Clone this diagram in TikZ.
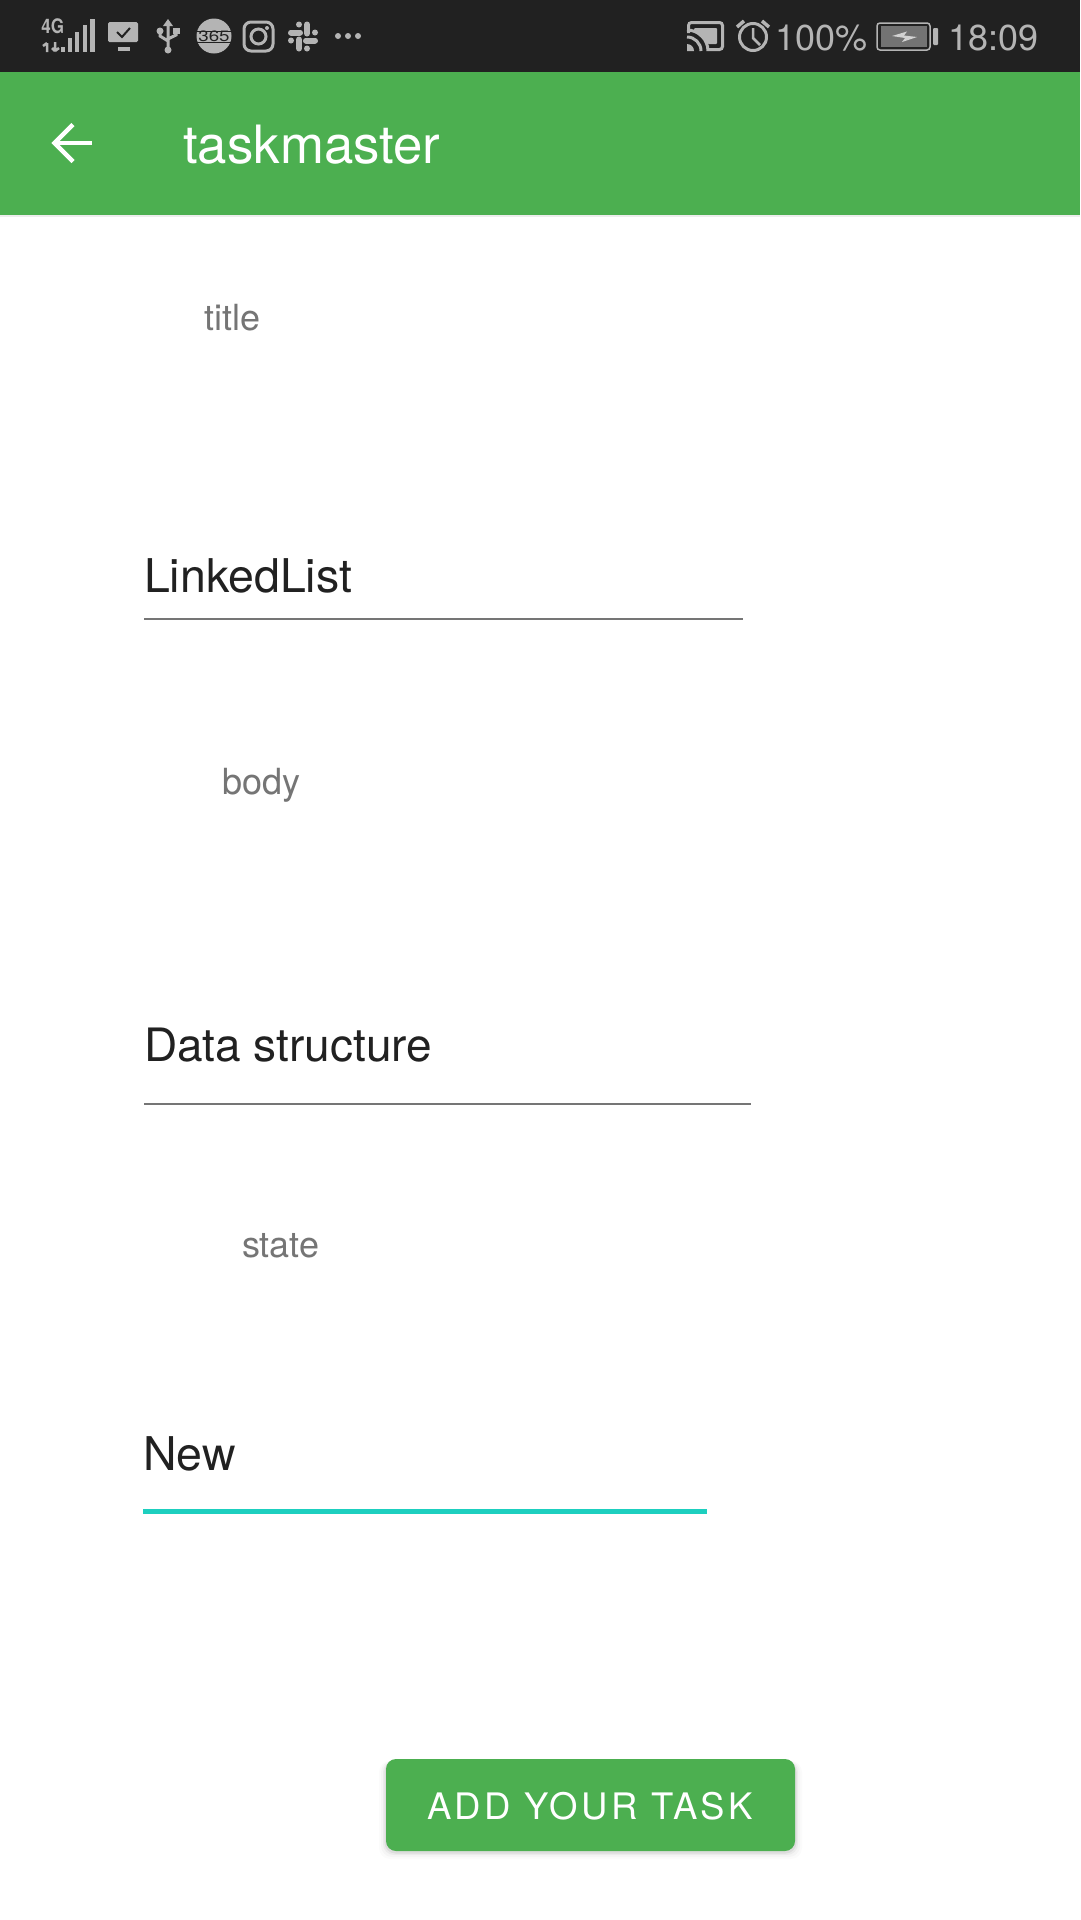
\documentclass[tikz,border=0pt]{standalone}
\usepackage{fontspec}
\setmainfont{TeX Gyre Heros}
\newcommand{\fsize}[1]{\fontsize{#1}{#1}\selectfont}
\definecolor{barblack}{HTML}{212121}
\definecolor{appgreen}{HTML}{4CAF50}
\definecolor{inkdark}{HTML}{212121}
\definecolor{inkgray}{HTML}{757575}
\definecolor{icongray}{HTML}{B4B4B4}
\definecolor{accentteal}{HTML}{1DCFBF}

\begin{document}
\begin{tikzpicture}[x=1pt,y=-1pt,
  label node/.style={anchor=base west,inner sep=0pt,outer sep=0pt,text=inkgray,font=\fsize{36}},
  input node/.style={anchor=base west,inner sep=0pt,outer sep=0pt,text=inkdark,font=\fsize{46.5}},
  status node/.style={anchor=base west,inner sep=0pt,outer sep=0pt,text=icongray,font=\fsize{36}},
  field line/.style={draw=inkgray,line width=2pt},
  icon line/.style={draw=icongray,line width=3pt}]

  \useasboundingbox (0,0) rectangle (1080,1920);
  \fill[white] (0,0) rectangle (1080,1920);

  % bars
  \fill[black!7] (0,215) rectangle (1080,217);
  \fill[barblack] (0,0) rectangle (1080,72);
  \fill[appgreen] (0,72) rectangle (1080,215);

  % status bar, left
  \node[status node,font=\bfseries\fsize{20}] (net) at (41.5,33.5) {\addfontfeature{FakeStretch=0.85}4G};
  \draw[icon line,line width=2.5pt] (47,52) -- (47,43) (43,46) -- (47,43) (55,42) -- (55,51) (52,48) -- (55,51) (59,48) -- (55,51);
  \foreach \x/\y in {63/47,70/38,77/32,85/25,92.5/19}
    \draw[icon line,line width=4.5pt] (\x,\y) -- (\x,52);
  \fill[icongray,rounded corners=1.5pt] (108,22) rectangle (138,42);
  \fill[icongray] (118,47) rectangle (130,51);
  \draw[barblack,line width=2pt] (117,32) -- (122,37) -- (130,28);

  \draw[icon line] (168,24) -- (168,50) (160,31) -- (160,36) -- (168,41) (176,31) -- (176,35) -- (168,39);
  \fill[icongray] (168,19) -- (173,26) -- (163,26) -- cycle;
  \fill[icongray] (168,50) circle[radius=3.5pt] (160,31) circle[radius=3.5pt];
  \fill[icongray] (172.5,28) rectangle (179.5,34);

  \fill[icongray] (214,36) circle[radius=17.5pt];
  \node[inner sep=0pt,text=barblack,font=\fsize{15}] (days) at (214,36.5) {\addfontfeature{FakeStretch=1.25}365};
  \draw[barblack,line width=1pt] (197,31) -- (231,31) (197,42) -- (231,42);

  \draw[icon line,rounded corners=7pt] (244,22) rectangle (273,51);
  \draw[icon line] (258.5,36.5) circle[radius=7.5pt];
  \fill[icongray] (267,28) circle[radius=2pt];

  \begin{scope}[shift={(303,36.5)}]
    \draw[icongray,line width=6pt,line cap=round] (-12,-4) -- (-3,-4) (4,-12) -- (4,-3)
      (3,4) -- (12,4) (-4,3) -- (-4,12);
    \foreach \x/\y in {-4/-12,12/-4,4/12,-12/4}
      \fill[icongray] (\x,\y) circle[radius=3pt];
  \end{scope}

  \foreach \x in {338,348,358}
    \fill[icongray] (\x,36) circle[radius=3pt];

  % status bar, right
  \draw[icon line,rounded corners=3pt] (688.5,33) -- (688.5,22.5) -- (722.5,22.5) -- (722.5,49.5) -- (708,49.5);
  \fill[icongray,rounded corners=1pt] (694,28) -- (717,28) -- (717,44) -- (708,44) -- (694,31) -- cycle;
  \fill[icongray] (687,51) -- (687,44) arc[start angle=90,end angle=0,radius=7pt] -- cycle;
  \draw[icon line] (687,37) arc[start angle=90,end angle=0,radius=14pt];
  \draw[icon line] (687,30) arc[start angle=90,end angle=0,radius=21pt];

  \draw[icon line] (753,37) circle[radius=13.5pt];
  \draw[icon line,line width=2.5pt] (753,28) -- (753,38) -- (760,45);
  \draw[icon line,line width=3.5pt] (737,27) -- (744,21) (769,27) -- (762,21);

  \node[status node] (battext) at (775,50) {100\%};

  \draw[icongray,line width=1.5pt,rounded corners=3pt] (877,23) rectangle (930,50);
  \fill[black!55] (880.5,26) rectangle (926.5,47);
  \fill[icongray!60!white] (892,36) -- (907,31.5) -- (904,35.5) -- (917,37) -- (902,42) -- (905,38) -- cycle;
  \fill[icongray,rounded corners=1pt] (933,28) rectangle (938,45);

  \node[status node] (clock) at (948,50) {18:09};

  % app bar
  \draw[white,line width=4.5pt] (55,143) -- (92,143);
  \draw[white,line width=4.5pt] (73,124.5) -- (54.5,143) -- (73,161.5);
  \node[anchor=base west,inner sep=0pt,text=white,font=\fsize{52.8}] (apptitle) at (183,163) {taskmaster};

  % form
  \node[label node] (titlelabel) at (204,330) {title};
  \node[input node] (titleinput) at (144,592) {LinkedList};
  \coordinate (titlea) at (144,618.5);
  \coordinate (titleb) at (743,618.5);
  \draw[field line] (titlea) -- (titleb);

  \node[label node] (bodylabel) at (222,794) {body};
  \node[input node,font=\fsize{46}] (bodyinput) at (144,1061) {Data structure};
  \coordinate (bodya) at (144,1103.5);
  \coordinate (bodyb) at (751,1103.5);
  \draw[field line] (bodya) -- (bodyb);

  \node[label node] (statelabel) at (242,1257) {state};
  \node[input node] (stateinput) at (143,1470) {New};
  \coordinate (statea) at (143,1511);
  \coordinate (stateb) at (707,1511);
  \draw[accentteal,line width=5pt] (statea) -- (stateb);

  % button
  \foreach \d/\o in {7/0.015,5/0.025,3/0.04,1.5/0.06}
    \fill[black,opacity=\o,rounded corners=11pt] (386-\d,1759+2) rectangle (795+\d,1851+\d+1);
  \fill[appgreen,rounded corners=10pt] (386,1759) rectangle (795,1851);
  \node[anchor=base,inner sep=0pt,text=white,font=\fsize{36.5}] (addbutton) at (590,1819)
    {\addfontfeature{LetterSpace=9}ADD YOUR TASK};

\end{tikzpicture}
\end{document}
